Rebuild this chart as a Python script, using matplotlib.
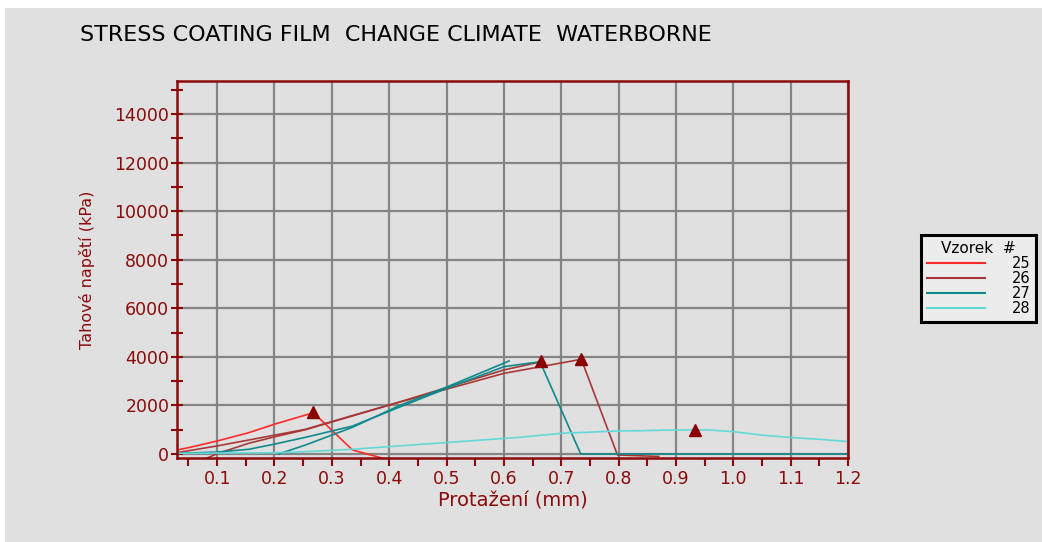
import matplotlib
matplotlib.use("Agg")
import matplotlib.pyplot as plt
from matplotlib.patches import Rectangle
from matplotlib.ticker import MultipleLocator, FormatStrFormatter

# vzorek 25
x25 = [0.03, 0.053, 0.102, 0.155, 0.201, 0.268, 0.336, 0.388]
y25 = [165, 275, 548, 877, 1235, 1700, 165, -170]
# vzorek 26 (two traces)
x26 = [0.079, 0.102, 0.155, 0.201, 0.254, 0.42, 0.6, 0.735, 0.798, 0.87]
y26 = [-200, 30, 440, 713, 1000, 2150, 3320, 3900, -40, -100]
x26b = [0.03, 0.102, 0.201, 0.254, 0.315, 0.42, 0.6, 0.665]
y26b = [55, 340, 780, 1017, 1440, 2155, 3460, 3800]
# vzorek 27 (two traces)
x27 = [0.03, 0.1, 0.155, 0.201, 0.254, 0.336, 0.42, 0.5, 0.6, 0.663, 0.734, 1.2]
y27 = [27, 80, 193, 412, 687, 1150, 1950, 2700, 3595, 3800, 0, 0]
x27b = [0.207, 0.254, 0.336, 0.42, 0.495, 0.609]
y27b = [0, 370, 1100, 2018, 2705, 3830]
# vzorek 28
x28 = [0.03, 0.2, 0.254, 0.333, 0.629, 0.7, 0.8, 0.84, 0.9, 0.955, 1.0, 1.048, 1.095, 1.153, 1.2]
y28 = [27, 50, 96, 190, 690, 850, 950, 960, 990, 990, 920, 780, 690, 600, 510]

# peak markers
peak_x = [0.268, 0.665, 0.735, 0.933]
peak_y = [1720, 3820, 3920, 1000]

labels = ['25', '26', '27', '28']
colors = ['#ff2a2a', '#a83838', '#10898a', '#62d9d9']

bg = '#e0e0e0'
dark = '#8b0a0a'

fig = plt.figure(figsize=(10.42, 5.42), dpi=100, facecolor='white')
fig.patches.append(Rectangle((5 / 1042, 0), 1 - 5 / 1042, 1 - 8 / 542,
                             transform=fig.transFigure, facecolor=bg,
                             edgecolor='none', zorder=-10))

ax = fig.add_axes([177 / 1042, 84 / 542, 671 / 1042, 377 / 542])
ax.set_facecolor(bg)

ax.plot(x25, y25, color=colors[0], lw=1.2, label=labels[0])
ax.plot(x26, y26, color=colors[1], lw=1.2, label=labels[1])
ax.plot(x26b, y26b, color=colors[1], lw=1.2)
ax.plot(x27, y27, color=colors[2], lw=1.2, label=labels[2])
ax.plot(x27b, y27b, color=colors[2], lw=1.2)
ax.plot(x28, y28, color=colors[3], lw=1.2, label=labels[3])
ax.plot(peak_x, peak_y, ls='none', marker='^', ms=9, color='#8b0000', zorder=5)

ax.set_xlim(0.03, 1.2)
ax.set_ylim(-165, 15360)
ax.xaxis.set_major_locator(MultipleLocator(0.1))
ax.xaxis.set_minor_locator(MultipleLocator(0.05))
ax.xaxis.set_major_formatter(FormatStrFormatter('%.1f'))
ax.yaxis.set_major_locator(MultipleLocator(2000))
ax.yaxis.set_minor_locator(MultipleLocator(1000))

ax.grid(True, which='major', color='#858585', lw=1.6)
ax.set_axisbelow(True)
for s in ax.spines.values():
    s.set_color(dark)
    s.set_linewidth(1.8)

ax.tick_params(axis='x', which='both', direction='out', color=dark, width=1.5,
               labelcolor=dark, labelsize=12.5, pad=3, length=6)
ax.tick_params(axis='y', which='both', direction='inout', color=dark, width=1.5,
               labelcolor=dark, labelsize=12.5, length=9, pad=1)

ax.set_xlabel('Protažení (mm)', color=dark, fontsize=14, labelpad=2)
ax.set_ylabel('Tahové napětí (kPa)', color=dark, fontsize=11.5, labelpad=14)

fig.text(80 / 1042, 1 - 35 / 542, 'STRESS COATING FILM  CHANGE CLIMATE  WATERBORNE',
         fontsize=16, color='black', va='center', ha='left')

leg = ax.legend(loc='upper left', bbox_to_anchor=(921 / 1042, 1 - 235 / 542),
                bbox_transform=fig.transFigure, title='Vzorek  #',
                fontsize=10.5, title_fontsize=11, handlelength=4.0,
                handletextpad=1.8, labelspacing=0.0, borderpad=0.4,
                fancybox=False, framealpha=1, borderaxespad=0)
leg.get_frame().set_edgecolor('black')
leg.get_frame().set_linewidth(2.2)
leg.get_frame().set_facecolor('#ececec')
for ln in leg.get_lines():
    ln.set_linewidth(1.5)

fig.savefig('out.png', dpi=100, facecolor=fig.get_facecolor())
